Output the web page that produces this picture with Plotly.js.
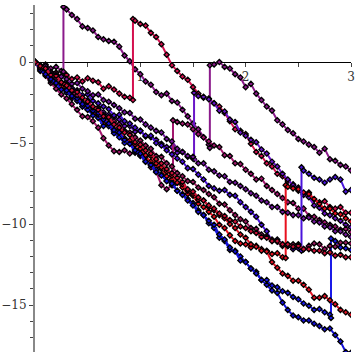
<!DOCTYPE html>
<html>
<head>
<meta charset="utf-8">
<script src="https://cdn.plot.ly/plotly-3.0.1.min.js"></script>
<style>html,body{margin:0;padding:0;background:#fff}#chart{width:355px;height:355px}</style>
</head>
<body>
<div id="chart"></div>
<script>
// time grid shared by all sample paths
const T = [0,0.05,0.1,0.15,0.2,0.25,0.3,0.35,0.4,0.45,0.5,0.55,0.6,0.65,0.7,0.75,0.8,0.85,0.9,0.95,1,1.05,1.1,1.15,1.2,1.25,1.3,1.35,1.4,1.45,1.5,1.55,1.6,1.65,1.7,1.75,1.8,1.85,1.9,1.95,2,2.05,2.1,2.15,2.2,2.25,2.3,2.35,2.4,2.45,2.5,2.55,2.6,2.65,2.7,2.75,2.8,2.85,2.9,2.95,3];

// path values on the grid
const P1 = [0,-0.25,-0.15,-0.4,-0.3,-0.55,3.25,2.9,2.65,2.2,2.1,1.95,1.55,1.4,1.3,1.25,0.95,0.4,0.05,-0.45,-0.75,-1.2,-1.4,-1.85,-2.05,-1.95,-2.4,-2.5,-2.95,-3.35,-3.8,-4.15,-4.65,-5.1,-0.15,0,-0.3,-0.4,-0.75,-0.95,-1.55,-1.35,-1.95,-2.35,-2.75,-3.0,-3.6,-3.85,-4.2,-4.4,-4.75,-4.9,-5.1,-5.25,-5.6,-5.35,-6.0,-6.1,-6.35,-6.45,-6.7];
const P2 = [0,-0.35,-0.3,-0.6,-0.65,-0.9,-0.8,-1.05,-0.95,-1.2,-1.0,-1.15,-1.25,-1.65,-1.5,-1.7,-1.95,-2.15,-2.2,2.55,2.35,2.25,1.8,1.55,1.1,0.45,-0.2,-0.55,-0.9,-1.1,-1.55,-1.95,-2.2,-2.25,-2.55,-2.75,-3.15,-3.65,-4.15,-4.25,-4.45,-5.05,-5.55,-5.8,-6.25,-6.45,-6.9,-7.05,-7.35,-7.55,-7.95,-8.1,-8.05,-8.5,-8.65,-8.6,-8.95,-9.05,-8.95,-9.3,-9.3];
const P3 = [0,-0.4,-0.45,-0.9,-1.1,-1.35,-1.5,-1.95,-1.95,-2.3,-2.35,-2.8,-2.8,-3.1,-3.25,-3.4,-3.55,-3.95,-3.95,-4.3,-4.25,-4.6,-4.65,-4.8,-5.05,-5.25,-5.25,-5.6,-5.55,-5.85,-5.95,-2.1,-2.15,-2.3,-2.55,-3.0,-3.05,-3.55,-3.7,-4.35,-4.55,-4.8,-4.95,-5.4,-5.65,-6.15,-6.45,-6.9,-7.25,-7.6,-7.75,-8.2,-8.35,-8.85,-9.0,-9.35,-9.45,-9.65,-9.8,-10.05,-10.2];
const P4 = [0,-0.55,-0.85,-1.3,-1.65,-2.0,-2.25,-2.6,-2.95,-3.35,-3.4,-3.65,-4.05,-4.7,-5.15,-5.5,-5.55,-5.45,-5.65,-5.6,-5.8,-6.05,-6.5,-6.75,-7.6,-7.85,-7.6,-3.7,-3.8,-3.85,-4.15,-4.45,-4.65,-4.9,-5.15,-5.25,-5.75,-5.8,-6.25,-6.3,-6.65,-6.9,-7.25,-7.2,-7.65,-7.9,-8.15,-8.4,-8.65,-8.7,-9.05,-9.05,-9.5,-9.55,-9.75,-9.9,-10.05,-10.15,-10.35,-10.3,-10.5];
const P5 = [0,-0.35,-0.7,-0.95,-1.25,-1.55,-1.8,-2.25,-2.25,-2.75,-2.95,-3.1,-3.35,-3.8,-3.95,-4.3,-4.5,-4.75,-4.95,-5.4,-5.5,-5.85,-6.15,-6.45,-6.6,-7.05,-7.25,-7.45,-7.75,-8.15,-8.25,-8.75,-8.95,-9.25,-9.55,-10.05,-10.25,-10.7,-11.05,-11.2,-11.25,-11.45,-11.35,-11.55,-11.65,-11.85,-11.8,-12.05,-7.7,-7.8,-7.85,-8.05,-8.15,-8.45,-8.75,-9.05,-9.05,-9.35,-9.4,-9.65,-9.85];
const P6 = [0,-0.25,-0.5,-0.75,-0.95,-1.25,-1.2,-1.6,-1.75,-2.05,-2.0,-2.4,-2.55,-2.75,-2.9,-3.3,-3.25,-3.65,-3.8,-4.05,-4.25,-4.55,-4.55,-5.0,-5.15,-5.45,-5.7,-5.95,-6.15,-6.55,-6.6,-6.95,-7.25,-7.65,-7.8,-7.95,-7.9,-8.2,-8.25,-8.65,-8.95,-9.25,-9.55,-10.05,-10.45,-11.05,-10.95,-11.25,-11.35,-11.55,-11.5,-6.7,-6.9,-7.15,-7.25,-7.45,-7.25,-7.1,-7.25,-8.0,-7.9];
const P7 = [0,-0.45,-0.65,-1.15,-1.35,-1.65,-1.9,-2.15,-2.4,-2.75,-2.95,-3.3,-3.45,-3.95,-3.95,-4.4,-4.65,-5.0,-5.05,-5.55,-5.75,-6.15,-6.35,-6.65,-6.95,-7.35,-7.45,-7.95,-8.15,-8.45,-8.7,-9.15,-9.45,-9.95,-10.25,-10.85,-11.05,-11.6,-11.65,-12.0,-12.35,-12.75,-12.95,-13.45,-13.45,-13.8,-13.9,-14.15,-14.25,-14.5,-14.65,-14.9,-15.05,-15.3,-15.25,-15.45,-15.6,-11.05,-11.45,-11.5,-11.6];
const P8 = [0,-0.3,-0.55,-1.0,-1.05,-1.5,-1.65,-1.9,-2.15,-2.55,-2.6,-3.05,-3.25,-3.5,-3.75,-4.15,-4.25,-4.7,-4.85,-5.1,-5.35,-5.75,-5.8,-6.25,-6.5,-6.75,-7.0,-7.45,-7.55,-7.95,-8.15,-8.5,-8.55,-8.95,-9.15,-9.45,-9.65,-10.0,-10.25,-10.65,-10.85,-11.25,-11.4,-11.65,-11.7,-12.35,-12.7,-13.05,-13.2,-13.5,-13.5,-13.75,-14.05,-14.55,-14.55,-14.45,-14.7,-14.95,-15.3,-15.45,-15.6];
const P9 = [0,-0.5,-0.75,-1.05,-1.3,-1.7,-1.75,-2.1,-2.25,-2.6,-2.7,-3.0,-3.15,-3.55,-3.8,-4.2,-4.35,-4.8,-5.05,-5.45,-5.65,-6.15,-6.35,-6.8,-7.0,-7.35,-7.5,-7.95,-8.2,-8.55,-8.85,-9.25,-9.45,-9.8,-10.05,-10.65,-10.95,-11.45,-11.7,-12.25,-12.35,-12.75,-13.05,-13.45,-13.75,-14.1,-14.25,-14.85,-15.3,-15.65,-15.75,-15.95,-15.95,-16.15,-16.3,-16.5,-16.45,-16.85,-17.25,-17.9,-17.95];
const P10 = [0,-0.2,-0.25,-0.65,-0.75,-0.9,-1.05,-1.35,-1.3,-1.65,-1.8,-2.05,-2.0,-2.35,-2.45,-2.65,-2.85,-3.1,-3.15,-3.5,-3.55,-3.85,-4.05,-4.25,-4.35,-4.75,-4.9,-5.35,-5.55,-5.8,-5.85,-6.25,-6.25,-6.65,-6.75,-7.0,-7.05,-7.4,-7.45,-7.65,-7.85,-8.1,-8.25,-8.55,-8.65,-8.95,-8.95,-9.25,-9.3,-9.45,-9.45,-9.65,-9.6,-9.85,-9.9,-10.15,-10.2,-10.45,-10.45,-10.65,-10.8];
const P11 = [0,-0.35,-0.45,-0.75,-1.0,-1.3,-1.35,-1.8,-2.05,-2.25,-2.45,-2.8,-2.85,-3.25,-3.45,-3.65,-3.85,-4.25,-4.35,-4.65,-4.85,-5.15,-5.35,-5.8,-5.85,-6.25,-6.45,-6.85,-7.05,-7.35,-7.4,-7.75,-7.9,-8.15,-8.35,-8.75,-8.8,-9.15,-9.45,-9.7,-9.85,-10.25,-10.3,-10.65,-10.75,-10.95,-11.1,-11.35,-11.35,-11.25,-11.25,-11.55,-11.35,-11.2,-11.25,-11.55,-11.35,-11.4,-11.15,-11.15,-11.2];
const P12 = [0,-0.25,-0.4,-0.8,-0.85,-1.25,-1.45,-1.75,-1.85,-2.2,-2.45,-2.75,-2.95,-3.35,-3.4,-3.85,-4.05,-4.35,-4.5,-4.95,-5.1,-5.45,-5.65,-6.0,-6.25,-6.6,-6.85,-7.15,-7.4,-7.85,-8.0,-8.35,-8.55,-8.85,-9.05,-9.35,-9.5,-9.75,-9.85,-10.15,-10.25,-10.45,-10.55,-10.8,-10.85,-11.05,-11.05,-11.25,-11.25,-11.4,-11.35,-11.55,-11.55,-11.65,-11.65,-11.8,-11.75,-11.95,-11.9,-12.05,-12.05];

// jumps: [time, value before, value after]
const J1 = [[0.27,-0.6,3.4],[1.66,-5.3,-0.2]];
const J2 = [[0.93,-2.35,2.65]];
const J3 = [[1.51,-6.0,-1.9]];
const J4 = [[1.31,-7.6,-3.6]];
const J5 = [[2.38,-12.1,-7.6]];
const J6 = [[2.53,-11.65,-6.5]];
const J7 = [[2.81,-15.8,-10.9]];
const NOJ = [];

const PATHS = [P1,P2,P3,P4,P5,P6,P7,P8,P9,P10,P11,P12];
const JUMPS = [J1,J2,J3,J4,J5,J6,J7,NOJ,NOJ,NOJ,NOJ,NOJ];
const COLORS = ['#8b1a8b','#d4104e','#6a16c8','#a3186e','#e8101e','#4a14dc','#1a1ae8','#e01424','#1410d8','#761aa0','#961a5c','#d01238'];

// axes
const X_RANGE = [0, 3];
const Y_RANGE = [-17.9, 3.52];
const X_TICKS = [1, 2, 3];
const X_TICKTEXT = ['1', '2', '3'];
const X_MINOR = [0.5, 1.5, 2.5];
const Y_TICKS = [-15, -10, -5, 0];
const Y_TICKTEXT = ['\u221215', '\u221210', '\u22125', '0'];
const Y_MINOR = [-17,-16,-14,-13,-12,-11,-9,-8,-7,-6,-4,-3,-2,-1,1,2,3];

PATHS.forEach((p, i) => { if (p.length !== T.length) throw new Error('path ' + (i+1) + ' has ' + p.length); });

function build(Y, jumps) {
  const x = [], y = [];
  let j = 0;
  for (let i = 0; i < T.length; i++) {
    while (j < jumps.length && jumps[j][0] < T[i]) {
      x.push(jumps[j][0]); y.push(jumps[j][1]);
      x.push(jumps[j][0]); y.push(jumps[j][2]);
      j++;
    }
    x.push(T[i]); y.push(Y[i]);
  }
  return {x, y};
}

const traces = PATHS.map((p, i) => {
  const d = build(p, JUMPS[i]);
  return {
    x: d.x, y: d.y, type: 'scatter', mode: 'lines+markers',
    line: {color: COLORS[i], width: 2},
    marker: {symbol: 'diamond', size: 4, color: COLORS[i], line: {color: '#000', width: 1.3}},
    hoverinfo: 'skip', showlegend: false
  };
});

const font = {family: 'DejaVu Serif', size: 12, color: '#333'};
const layout = {
  width: 355, height: 355,
  margin: {l: 35, r: 4, t: 5, b: 3, pad: 0},
  paper_bgcolor: '#fff', plot_bgcolor: '#fff',
  showlegend: false,
  xaxis: {
    range: X_RANGE, showgrid: false, zeroline: false,
    showline: true, linecolor: '#000', linewidth: 1,
    anchor: 'free', position: (0 - Y_RANGE[0]) / (Y_RANGE[1] - Y_RANGE[0]),
    ticks: 'outside', ticklen: 4, tickwidth: 1, tickcolor: '#444',
    tickmode: 'array', tickvals: X_TICKS, ticktext: X_TICKTEXT,
    tickfont: font, layer: 'below traces', ticklabeloverflow: 'allow',
    minor: {tickmode: 'array', tickvals: X_MINOR, ticks: 'outside', ticklen: 4, tickcolor: '#444', showgrid: false}
  },
  yaxis: {
    range: Y_RANGE, showgrid: false, zeroline: false,
    showline: true, linecolor: '#888', linewidth: 2,
    ticks: 'outside', ticklen: 4, tickwidth: 1, tickcolor: '#444',
    tickmode: 'array', tickvals: Y_TICKS, ticktext: Y_TICKTEXT,
    tickfont: font, layer: 'below traces',
    minor: {tickmode: 'array', tickvals: Y_MINOR, ticks: 'outside', ticklen: 3, tickcolor: '#444', showgrid: false}
  }
};

Plotly.newPlot('chart', traces, layout, {staticPlot: true, displayModeBar: false});
</script>
</body>
</html>
